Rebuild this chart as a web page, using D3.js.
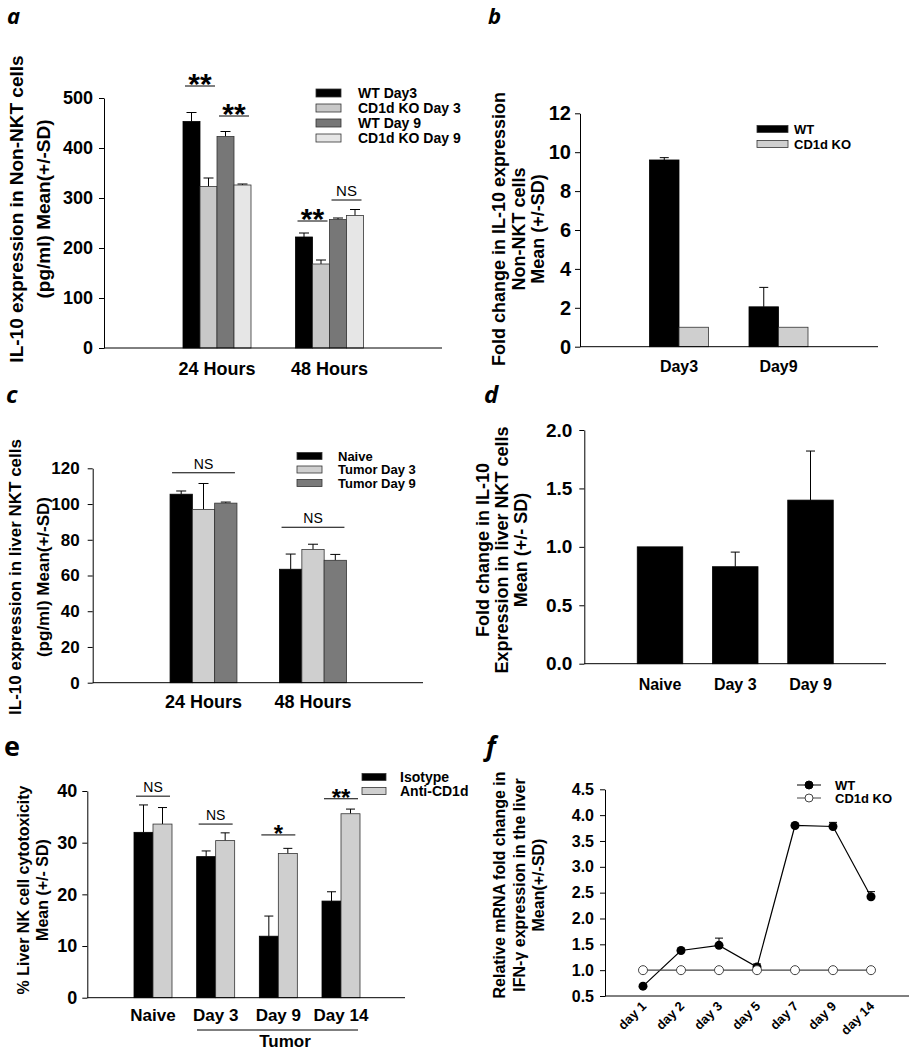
<!DOCTYPE html>
<html>
<head>
<meta charset="utf-8">
<script src="https://cdn.jsdelivr.net/npm/d3@7"></script>
<style>
  body { margin: 0; background: #fff; }
  svg { display: block; }
  text { font-family: "Liberation Sans", Arial, sans-serif; font-weight: bold; fill: #000; }
</style>
</head>
<body>
<svg id="fig" width="912" height="1050"></svg>
<script>
// ---- data ----
var aGroups = ["24 Hours", "48 Hours"];
var aSeries = ["WT Day3", "CD1d KO Day 3", "WT Day 9", "CD1d KO Day 9"];
var aMean = [[453, 323, 423, 326], [222, 168, 257, 265]];
var aSd = [[18, 17, 10, 2], [8, 8, 3, 12]];
var aTicks = [0, 100, 200, 300, 400, 500];
var aSig = [{g: 0, s: [0, 1], at: 524, t: "**"}, {g: 0, s: [2, 3], at: 464, t: "**"},
            {g: 1, s: [0, 1], at: 254, t: "**"}, {g: 1, s: [2, 3], at: 296, t: "NS"}];

var bGroups = ["Day3", "Day9"];
var bSeries = ["WT", "CD1d KO"];
var bMean = [[9.6, 1], [2.05, 1]];
var bSd = [[0.12, 0], [1.0, 0]];
var bTicks = [0, 2, 4, 6, 8, 10, 12];

var cGroups = ["24 Hours", "48 Hours"];
var cSeries = ["Naive", "Tumor Day 3", "Tumor Day 9"];
var cMean = [[105.5, 97, 100.5], [63.5, 74.5, 68.5]];
var cSd = [[1.8, 14.5, 0.6], [8.5, 3, 3.3]];
var cTicks = [0, 20, 40, 60, 80, 100, 120];
var cSig = [{g: 0, s: [0, 2], at: 117.5, t: "NS"}, {g: 1, s: [0, 2], at: 87, t: "NS"}];

var dGroups = ["Naive", "Day 3", "Day 9"];
var dMean = [[1.0], [0.83], [1.40]];
var dSd = [[0], [0.125], [0.42]];
var dTicks = [0, 0.5, 1.0, 1.5, 2.0];

var eGroups = ["Naive", "Day 3", "Day 9", "Day 14"];
var eSeries = ["Isotype", "Anti-CD1d"];
var eMean = [[32, 33.6], [27.3, 30.4], [11.9, 27.9], [18.7, 35.6]];
var eSd = [[5.3, 3.2], [1.1, 1.5], [3.9, 1.0], [1.8, 0.9]];
var eTicks = [0, 10, 20, 30, 40];
var eSig = [{g: 0, s: [0, 1], at: 39, t: "NS"}, {g: 1, s: [0, 1], at: 33.6, t: "NS"},
            {g: 2, s: [0, 1], at: 31.5, t: "*"}, {g: 3, s: [0, 1], at: 38.5, t: "**"}];

var fDays = ["day 1", "day 2", "day 3", "day 5", "day 7", "day 9", "day 14"];
var fWT = [0.69, 1.38, 1.48, 1.06, 3.80, 3.78, 2.42];
var fWTsd = [0, 0, 0.14, 0.06, 0, 0.08, 0.1];
var fKO = [1, 1, 1, 1, 1, 1, 1];
var fSeries = ["WT", "CD1d KO"];
var fTicks = [0.5, 1.0, 1.5, 2.0, 2.5, 3.0, 3.5, 4.0, 4.5];

var svg = d3.select("#fig");

function panelLabel(t, x, y, size, italic) {
  svg.append("text").attr("x", x).attr("y", y)
    .style("font-family", "'Open Sans', sans-serif")
    .style("font-style", italic ? "italic" : "normal")
    .style("font-size", size + "px").text(t);
}

function yLabel(lines, xs, cy, size) {
  lines.forEach(function(l, i) {
    svg.append("text")
      .attr("transform", "translate(" + xs[i] + "," + cy + ") rotate(-90)")
      .attr("text-anchor", "middle")
      .style("font-size", size + "px")
      .text(l);
  });
}

function yAxis(y, o) {
  var g = svg.append("g").attr("transform", "translate(" + o.left + ",0)")
    .call(d3.axisLeft(y).tickValues(o.ticks).tickSize(5).tickSizeOuter(0)
      .tickPadding(o.pad).tickFormat(d3.format(o.fmt || "d")));
  g.attr("font-family", null).attr("font-size", null);
  g.selectAll("text").style("font-size", o.tickFont + "px");
  g.select(".domain").attr("stroke", "#000");
  g.selectAll(".tick line").attr("stroke", "#000");
  svg.append("line").attr("x1", o.left).attr("x2", o.right)
    .attr("y1", o.bottom).attr("y2", o.bottom).attr("stroke", "#000");
}

function legendBars(items, colors, x, y0, dy, sw, sh, tx, size) {
  items.forEach(function(s, i) {
    svg.append("rect").attr("x", x).attr("y", y0 + i * dy - sh / 2)
      .attr("width", sw).attr("height", sh)
      .attr("fill", colors[i]).attr("stroke", "#333").attr("stroke-width", 0.8);
    svg.append("text").attr("x", tx).attr("y", y0 + i * dy).attr("dy", "0.35em")
      .style("font-size", size + "px").text(s);
  });
}

function barPanel(o) {
  var n = o.mean[0].length;
  var y = d3.scaleLinear().domain([o.ticks[0], o.ticks[o.ticks.length - 1]]).range([o.bottom, o.top]);
  var x = d3.scalePoint().domain(o.groups).range(o.centers);
  var inner = d3.scaleBand().domain(d3.range(n)).range([-n * o.barW / 2, n * o.barW / 2]);

  var g = svg.append("g");
  o.groups.forEach(function(grp, gi) {
    o.mean[gi].forEach(function(v, si) {
      var x0 = x(grp) + inner(si), cx = x0 + o.barW / 2;
      var sd = o.sd[gi][si];
      if (sd > 0) {
        g.append("line").attr("x1", cx).attr("x2", cx).attr("y1", y(v)).attr("y2", y(v + sd))
          .attr("stroke", "#000");
        g.append("line").attr("x1", cx - o.cap).attr("x2", cx + o.cap)
          .attr("y1", y(v + sd)).attr("y2", y(v + sd)).attr("stroke", "#000");
      }
      g.append("rect").attr("x", x0).attr("y", y(v))
        .attr("width", o.barW).attr("height", y(0) - y(v))
        .attr("fill", o.colors[si]).attr("stroke", si === 0 ? "#000" : "#333")
        .attr("stroke-width", 0.8);
    });
    svg.append("text").attr("x", x(grp)).attr("y", o.labelY)
      .attr("text-anchor", "middle").style("font-size", o.catFont + "px").text(grp);
  });

  yAxis(y, o);

  (o.sig || []).forEach(function(s) {
    var xa = x(o.groups[s.g]) + inner(s.s[0]), xb = x(o.groups[s.g]) + inner(s.s[1]) + o.barW;
    var mid = (xa + xb) / 2, half = (xb - xa) / 2 - 2;
    svg.append("line").attr("x1", mid - half).attr("x2", mid + half)
      .attr("y1", y(s.at)).attr("y2", y(s.at)).attr("stroke", "#000");
    var star = s.t.indexOf("*") >= 0;
    svg.append("text").attr("x", mid).attr("y", y(s.at) + (star ? o.starDy : -4))
      .attr("text-anchor", "middle")
      .style("font-size", (star ? o.starFont : o.nsFont) + "px")
      .style("font-weight", star ? "bold" : "normal")
      .text(s.t);
  });
  return {x: x, y: y};
}

// ---- panel a ----
panelLabel("a", 7, 24, 22, true);
barPanel({groups: aGroups, mean: aMean, sd: aSd, ticks: aTicks, sig: aSig,
  colors: ["#000", "#c8c8c8", "#777", "#e6e6e6"],
  left: 104, right: 442, top: 98, bottom: 348, centers: [217, 329.5], barW: 17, cap: 5,
  pad: 6, tickFont: 18, catFont: 18, labelY: 375, starFont: 30, starDy: 8, nsFont: 15});
legendBars(aSeries, ["#000", "#c8c8c8", "#777", "#e6e6e6"], 316, 93, 15, 25, 8, 358, 14);
yLabel(["IL-10 expression in Non-NKT cells", "(pg/ml)  Mean(+/-SD)"], [23, 50], 209, 19);

// ---- panel b ----
panelLabel("b", 488, 24, 22, true);
barPanel({groups: bGroups, mean: bMean, sd: bSd, ticks: bTicks,
  colors: ["#000", "#cfcfcf"],
  left: 580, right: 878, top: 113.3, bottom: 346.7, centers: [679, 778.5], barW: 29.5, cap: 4.5,
  pad: 4, tickFont: 20, catFont: 16, labelY: 372});
legendBars(bSeries, ["#000", "#cfcfcf"], 757, 129, 15, 31, 7, 794, 13);
yLabel(["Fold change in IL-10 expression", "Non-NKT cells", "Mean (+/-SD)"], [505, 525, 544], 229, 18);

// ---- panel c ----
panelLabel("c", 6, 403, 24, true);
barPanel({groups: cGroups, mean: cMean, sd: cSd, ticks: cTicks, sig: cSig,
  colors: ["#000", "#cfcfcf", "#7a7a7a"],
  left: 92.7, right: 423, top: 468.3, bottom: 682.7, centers: [203.5, 313], barW: 22.3, cap: 5,
  pad: 8, tickFont: 17, catFont: 18, labelY: 708, nsFont: 14});
legendBars(cSeries, ["#000", "#cfcfcf", "#7a7a7a"], 297, 456, 13.5, 25, 7, 338, 13);
yLabel(["IL-10 expression in  liver NKT cells", "(pg/ml)  Mean(+/-SD)"], [21, 49], 577, 17);

// ---- panel d ----
panelLabel("d", 484, 403, 24, true);
barPanel({groups: dGroups, mean: dMean, sd: dSd, ticks: dTicks, fmt: ".1f",
  colors: ["#000"],
  left: 584.3, right: 886, top: 430, bottom: 663.7, centers: [660, 810.5], barW: 45.5, cap: 4.5,
  pad: 7, tickFont: 19, catFont: 16, labelY: 690});
yLabel(["Fold change in IL-10", "Expression in liver NKT cells", "Mean (+/- SD)"], [489, 508, 527], 550, 18);

// ---- panel e ----
panelLabel("e", 4, 756, 27, false);
barPanel({groups: eGroups, mean: eMean, sd: eSd, ticks: eTicks, sig: eSig,
  colors: ["#000", "#cfcfcf"],
  left: 87.3, right: 405, top: 791, bottom: 997.7, centers: [153, 341], barW: 19, cap: 4.5,
  pad: 5, tickFont: 18, catFont: 17, labelY: 1021, starFont: 24, starDy: 7, nsFont: 14});
legendBars(eSeries, ["#000", "#cfcfcf"], 362, 777, 14, 24, 7, 400, 14);
svg.append("line").attr("x1", 197).attr("x2", 358).attr("y1", 1030).attr("y2", 1030).attr("stroke", "#000");
svg.append("text").attr("x", 285).attr("y", 1047).attr("text-anchor", "middle")
  .style("font-size", "17px").text("Tumor");
yLabel(["% Liver NK cell cytotoxicity", "Mean (+/- SD)"], [29, 48], 890, 16);

// ---- panel f ----
panelLabel("f", 486, 756, 26, true);
var fx = d3.scalePoint().domain(fDays).range([643, 871]);
var fy = d3.scaleLinear().domain([fTicks[0], fTicks[fTicks.length - 1]]).range([996, 789.3]);
yAxis(fy, {left: 605, right: 909, bottom: 996, ticks: fTicks, pad: 6, tickFont: 16, fmt: ".1f"});

var line = d3.line().x(function(d, i) { return fx(fDays[i]); }).y(function(d) { return fy(d); });
svg.append("path").datum(fWT).attr("d", line).attr("fill", "none").attr("stroke", "#000").attr("stroke-width", 1.2);
svg.append("path").datum(fKO).attr("d", line).attr("fill", "none").attr("stroke", "#444").attr("stroke-width", 1.2);
fWT.forEach(function(v, i) {
  var cx = fx(fDays[i]);
  if (fWTsd[i] > 0) {
    svg.append("line").attr("x1", cx).attr("x2", cx).attr("y1", fy(v)).attr("y2", fy(v + fWTsd[i])).attr("stroke", "#000");
    svg.append("line").attr("x1", cx - 4).attr("x2", cx + 4).attr("y1", fy(v + fWTsd[i])).attr("y2", fy(v + fWTsd[i])).attr("stroke", "#000");
  }
});
svg.selectAll(".wt").data(fWT).enter().append("circle")
  .attr("cx", function(d, i) { return fx(fDays[i]); }).attr("cy", function(d) { return fy(d); })
  .attr("r", 4.5).attr("fill", "#000");
svg.selectAll(".ko").data(fKO).enter().append("circle")
  .attr("cx", function(d, i) { return fx(fDays[i]); }).attr("cy", function(d) { return fy(d); })
  .attr("r", 4.5).attr("fill", "#fff").attr("stroke", "#444");
fDays.forEach(function(dname) {
  svg.append("text")
    .attr("transform", "translate(" + (fx(dname) + 4) + ",1007) rotate(-45)")
    .attr("text-anchor", "end").style("font-size", "13px").text(dname);
});
// legend f
fSeries.forEach(function(s, i) {
  var yy = 785 + i * 13;
  svg.append("line").attr("x1", 797).attr("x2", 821).attr("y1", yy).attr("y2", yy)
    .attr("stroke", i === 0 ? "#000" : "#444");
  svg.append("circle").attr("cx", 809).attr("cy", yy).attr("r", 4)
    .attr("fill", i === 0 ? "#000" : "#fff").attr("stroke", i === 0 ? "#000" : "#444");
  svg.append("text").attr("x", 835).attr("y", yy).attr("dy", "0.35em").style("font-size", "13px").text(s);
});
yLabel(["Relative mRNA fold change in", "IFN-\u03b3 expression in the liver", "Mean(+/-SD)"], [505, 525, 544], 885, 16);
</script>
</body>
</html>
